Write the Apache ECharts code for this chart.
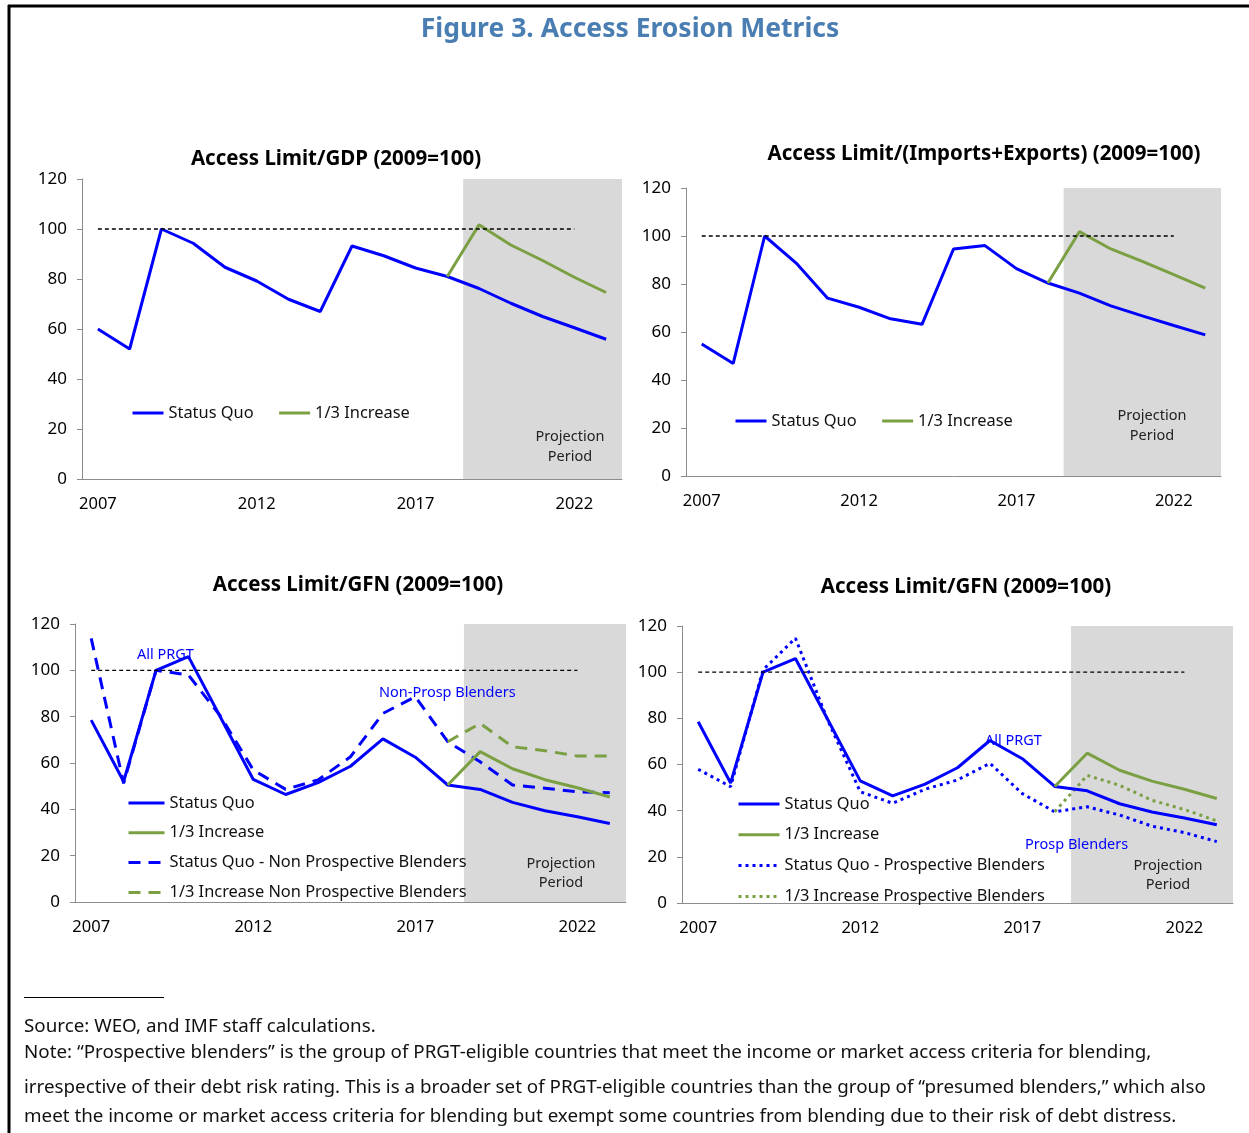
<!DOCTYPE html>
<html>
<head>
<meta charset="utf-8">
<script src="https://cdn.jsdelivr.net/npm/echarts@6/dist/echarts.min.js"></script>
<style>
  html, body { margin: 0; padding: 0; background: #fff; }
  #chart { width: 1249px; height: 1133px; }
</style>
</head>
<body>
<div id="chart"></div>
<script>
var years = ['2007', '2008', '2009', '2010', '2011', '2012', '2013', '2014', '2015',
  '2016', '2017', '2018', '2019', '2020', '2021', '2022', '2023'];

// Access limit / GDP
var gdpStatusQuo = [60, 52, 100, 94.3, 84.7, 79.2, 71.9, 67, 93.2, 89.3, 84.4, 81, 76.2, 70.3, 65, 60.5, 55.9];
var gdpIncrease = [null, null, null, null, null, null, null, null, null, null, null, 81, 101.7, 93.6, 87.4, 80.7, 74.6];

// Access limit / (imports + exports)
var tradeStatusQuo = [55, 46.9, 100, 88.7, 74.1, 70.3, 65.5, 63.2, 94.6, 96, 86.4, 80.4, 76.2, 70.9, 66.7, 62.7, 58.8];
var tradeIncrease = [null, null, null, null, null, null, null, null, null, null, null, 80.4, 101.8, 94.6, 89.4, 83.9, 78.3];

// Access limit / GFN
var gfnStatusQuo = [78.5, 52, 100, 105.9, 79.4, 52.9, 46.4, 51.5, 58.6, 70.4, 62.5, 50.5, 48.6, 43, 39.4, 36.8, 33.9];
var gfnIncrease = [null, null, null, null, null, null, null, null, null, null, null, 50.5, 64.9, 57.5, 52.8, 49.3, 45.3];
var nonProspStatusQuo = [113.8, 51.2, 100, 98, 80, 57, 48.6, 52.7, 62.7, 81.4, 88.6, 69.2, 60.5, 50.5, 49.1, 47.6, 47.2];
var nonProspIncrease = [null, null, null, null, null, null, null, null, null, null, null, 69.2, 77.1, 67, 65.3, 63, 63];
var prospStatusQuo = [57.9, 50.4, 101, 114.7, 79, 48.2, 43.2, 49.3, 53.3, 60.5, 47.4, 39.5, 41.7, 38.1, 33.3, 30.5, 26.6];
var prospIncrease = [null, null, null, null, null, null, null, null, null, null, null, 39.5, 55.3, 51, 44.5, 40.5, 35.6];

// 2009 = 100 reference line and the projection period
var baseline = [100, 100, 100, 100, 100, 100, 100, 100, 100, 100, 100, 100, 100, 100, 100, 100, null];
var projectionYears = ['2019', '2023'];

var BLUE = '#0000ff';
var GREEN = '#7ba043';
var FONT = 'Noto Sans';

var grids = [
  { left: 82, top: 179, width: 540, height: 300 },
  { left: 686, top: 188, width: 535, height: 288 },
  { left: 75, top: 624, width: 551, height: 278 },
  { left: 682, top: 626, width: 551, height: 277 }
];

var xAxes = [], yAxes = [];
grids.forEach(function (g, i) {
  g.containLabel = false;
  g.outerBoundsMode = 'none';
  xAxes.push({
    type: 'category', gridIndex: i, data: years, boundaryGap: true,
    axisLine: { lineStyle: { color: '#8c8c8c', width: 1 } },
    axisTick: { interval: 0, length: 6, lineStyle: { color: '#8c8c8c' } },
    axisLabel: { interval: 4, fontSize: 16.5, color: '#000', margin: 17, fontFamily: FONT }
  });
  yAxes.push({
    type: 'value', gridIndex: i, min: 0, max: 120, interval: 20,
    axisLine: { show: true, lineStyle: { color: '#8c8c8c', width: 1 } },
    axisTick: { show: true, length: 5, lineStyle: { color: '#8c8c8c' } },
    axisLabel: { fontSize: 17, color: '#000', margin: 15, fontFamily: FONT },
    splitLine: { show: false }
  });
});

function line(name, data, idx, color, type, width) {
  return {
    name: name, type: 'line', xAxisIndex: idx, yAxisIndex: idx, data: data,
    symbol: 'none', z: 3, silent: true, connectNulls: false,
    lineStyle: { color: color, width: width, type: type, cap: 'butt' },
    itemStyle: { color: color }
  };
}

// grey band covering the whole projection years, full category width
function shade(idx) {
  return {
    name: 'Projection', type: 'custom', xAxisIndex: idx, yAxisIndex: idx, silent: true, z: 1,
    data: [projectionYears],
    renderItem: function (params, api) {
      var a = api.coord([api.value(0), 120]);
      var b = api.coord([api.value(1), 0]);
      var band = api.size([1, 0])[0];
      return {
        type: 'rect',
        shape: { x: a[0] - band / 2, y: a[1], width: b[0] - a[0] + band, height: b[1] - a[1] },
        style: { fill: '#d9d9d9' }
      };
    },
    encode: { x: [0, 1] }
  };
}

var series = [];
grids.forEach(function (g, i) {
  series.push(shade(i));
  series.push(Object.assign(line('2009 level', baseline, i, '#000', [4, 3], 1.3), { z: 4 }));
});

series.push(line('Status Quo', gdpStatusQuo, 0, BLUE, 'solid', 3));
series.push(line('1/3 Increase', gdpIncrease, 0, GREEN, 'solid', 3));
series.push(line('Status Quo', tradeStatusQuo, 1, BLUE, 'solid', 3));
series.push(line('1/3 Increase', tradeIncrease, 1, GREEN, 'solid', 3));

series.push(line('Status Quo - Non Prospective Blenders', nonProspStatusQuo, 2, BLUE, [12, 8], 3));
series.push(line('1/3 Increase Non Prospective Blenders', nonProspIncrease, 2, GREEN, [12, 8], 3));
series.push(line('Status Quo', gfnStatusQuo, 2, BLUE, 'solid', 3));
series.push(line('1/3 Increase', gfnIncrease, 2, GREEN, 'solid', 3));

series.push(line('Status Quo - Prospective Blenders', prospStatusQuo, 3, BLUE, [3, 4], 3));
series.push(line('1/3 Increase Prospective Blenders', prospIncrease, 3, GREEN, [3, 4], 3));
series.push(line('Status Quo', gfnStatusQuo, 3, BLUE, 'solid', 3));
series.push(line('1/3 Increase', gfnIncrease, 3, GREEN, 'solid', 3));

function legend(opt) {
  return Object.assign({
    itemHeight: 14, selectedMode: false, padding: 0,
    lineStyle: { width: 3 },
    itemStyle: { opacity: 0, borderWidth: 0 },
    textStyle: { fontSize: 16.4, color: '#111', fontFamily: FONT }
  }, opt);
}

var legends = [
  legend({ left: 131, top: 405, itemWidth: 31, itemGap: 24, data: ['Status Quo', '1/3 Increase'] }),
  legend({ left: 734, top: 413, itemWidth: 31, itemGap: 24, data: ['Status Quo', '1/3 Increase'] }),
  legend({ left: 127, top: 795, orient: 'vertical', itemWidth: 36, itemGap: 13.8,
    data: ['Status Quo', '1/3 Increase', 'Status Quo - Non Prospective Blenders', '1/3 Increase Non Prospective Blenders'] }),
  legend({ left: 737, top: 796, orient: 'vertical', itemWidth: 41, itemGap: 14.8,
    data: ['Status Quo', '1/3 Increase', 'Status Quo - Prospective Blenders', '1/3 Increase Prospective Blenders'] })
];

function panelTitle(text, x, y) {
  return {
    text: text, left: x, top: y, textAlign: 'center', padding: 0,
    textStyle: { fontSize: 20.5, fontWeight: 'bold', color: '#000', fontFamily: FONT }
  };
}

function txt(text, x, y, size, color, align) {
  return {
    type: 'text', x: x, y: y, silent: true, z: 10,
    style: {
      text: text, fill: color, fontSize: size, fontFamily: FONT,
      textAlign: align || 'left', textVerticalAlign: 'middle'
    }
  };
}

var FOOT = 18.8;
var graphics = [
  { type: 'line', shape: { x1: 8, y1: 6, x2: 1249, y2: 6 }, style: { stroke: '#000', lineWidth: 3 } },
  { type: 'line', shape: { x1: 9, y1: 5, x2: 9, y2: 1133 }, style: { stroke: '#000', lineWidth: 3 } },
  { type: 'line', shape: { x1: 24, y1: 997.5, x2: 164, y2: 997.5 }, style: { stroke: '#000', lineWidth: 1 } },
  txt('Projection', 570, 437, 14.5, '#222', 'center'),
  txt('Period', 570, 457, 14.5, '#222', 'center'),
  txt('Projection', 1152, 416, 14.5, '#222', 'center'),
  txt('Period', 1152, 436, 14.5, '#222', 'center'),
  txt('Projection', 561, 864, 14.5, '#222', 'center'),
  txt('Period', 561, 883, 14.5, '#222', 'center'),
  txt('Projection', 1168, 866, 14.5, '#222', 'center'),
  txt('Period', 1168, 885, 14.5, '#222', 'center'),
  txt('All PRGT', 137, 655, 14.5, BLUE),
  txt('Non-Prosp Blenders', 379, 693, 14.5, BLUE),
  txt('All PRGT', 985, 741, 14.5, BLUE),
  txt('Prosp Blenders', 1025, 845, 14.5, BLUE),
  txt('Source: WEO, and IMF staff calculations.', 24, 1027, FOOT, '#111'),
  txt('Note: \u201cProspective blenders\u201d is the group of PRGT-eligible countries that meet the income or market access criteria for blending,', 24, 1053, FOOT, '#111'),
  txt('irrespective of their debt risk rating. This is a broader set of PRGT-eligible countries than the group of \u201cpresumed blenders,\u201d which also', 24, 1088, FOOT, '#111'),
  txt('meet the income or market access criteria for blending but exempt some countries from blending due to their risk of debt distress.', 24, 1117, FOOT, '#111')
];

var chart = echarts.init(document.getElementById('chart'), null, { renderer: 'canvas' });
chart.setOption({
  animation: false,
  backgroundColor: '#fff',
  textStyle: { fontFamily: FONT },
  title: [
    { text: 'Figure 3. Access Erosion Metrics', left: 630, top: 16, textAlign: 'center', padding: 0,
      textStyle: { fontSize: 26.5, fontWeight: 'bold', color: '#4a7eb3', fontFamily: FONT } },
    panelTitle('Access Limit/GDP (2009=100)', 336, 149),
    panelTitle('Access Limit/(Imports+Exports) (2009=100)', 984, 144),
    panelTitle('Access Limit/GFN (2009=100)', 358, 575),
    panelTitle('Access Limit/GFN (2009=100)', 966, 577)
  ],
  grid: grids,
  xAxis: xAxes,
  yAxis: yAxes,
  legend: legends,
  tooltip: { show: false },
  graphic: graphics,
  series: series
});
</script>
</body>
</html>
